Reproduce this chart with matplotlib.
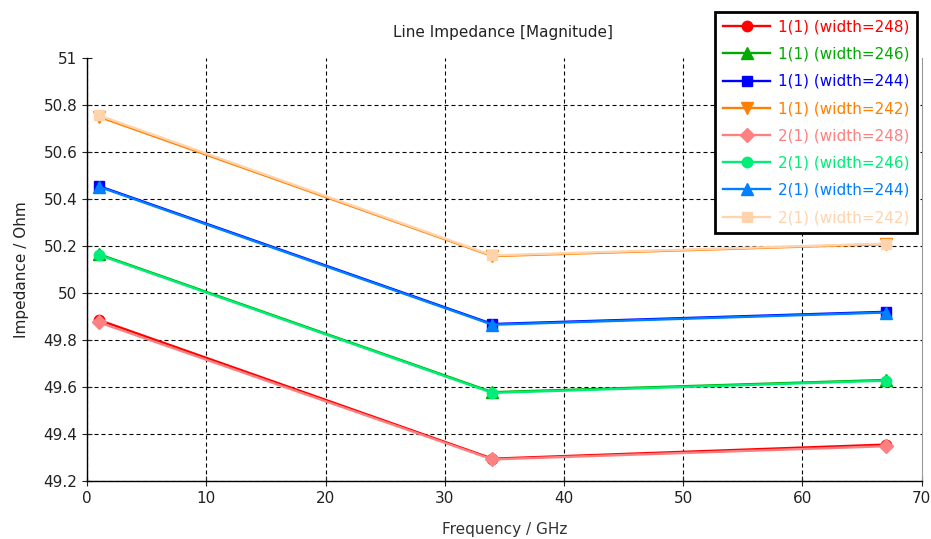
import numpy as np
import matplotlib.pyplot as plt

# Frequency points (GHz)
freq = [1, 34, 67]

# Port 1 impedance for each trace width
p1_w248 = [49.885, 49.295, 49.355]
p1_w246 = [50.165, 49.578, 49.630]
p1_w244 = [50.455, 49.868, 49.920]
p1_w242 = [50.750, 50.157, 50.208]

# Port 2 impedance for each trace width
p2_w248 = [49.875, 49.292, 49.348]
p2_w246 = [50.162, 49.575, 49.627]
p2_w244 = [50.452, 49.865, 49.917]
p2_w242 = [50.756, 50.160, 50.210]

labels = ['1(1) (width=248)', '1(1) (width=246)', '1(1) (width=244)', '1(1) (width=242)',
          '2(1) (width=248)', '2(1) (width=246)', '2(1) (width=244)', '2(1) (width=242)']
series = [p1_w248, p1_w246, p1_w244, p1_w242, p2_w248, p2_w246, p2_w244, p2_w242]
colors = ['#ff0000', '#00aa00', '#0000ff', '#ff8000',
          '#ff8080', '#00ee77', '#0080ff', '#ffd3ac']
markers = ['o', '^', 's', 'v', 'D', 'o', '^', 's']
msizes = [7.5, 8.5, 7.5, 8.5, 7, 7.5, 8.5, 7.5]

plt.rcParams['font.family'] = ['DejaVu Sans']

fig = plt.figure(figsize=(9.31, 5.39), dpi=100)
ax = fig.add_axes([0.0935, 0.1076, 0.8965, 0.7848])

for y, c, m, ms, lab in zip(series, colors, markers, msizes, labels):
    ax.plot(freq, y, color=c, marker=m, markersize=ms, linewidth=1.7, label=lab)

ax.set_xlim(0, 70)
ax.set_ylim(49.2, 51)
ax.set_xticks(np.arange(0, 71, 10))
ax.set_yticks(np.arange(49.2, 51.01, 0.2))
ax.set_yticklabels(['49.2', '49.4', '49.6', '49.8', '50', '50.2', '50.4', '50.6', '50.8', '51'])
ax.tick_params(labelsize=11, direction='inout', length=7, width=0.8, colors='#222222')

ax.grid(True, color='black', linestyle=(0, (3.6, 2.7)), linewidth=0.8)
ax.get_ygridlines()[-1].set_visible(False)
ax.get_xgridlines()[-1].set_visible(False)

ax.spines['top'].set_visible(False)
ax.spines['right'].set_color('#999999')
ax.spines['left'].set_linewidth(1.0)
ax.spines['bottom'].set_linewidth(1.0)

ax.set_xlabel('Frequency / GHz', fontsize=11, color='#333333', labelpad=12)
ax.set_ylabel('Impedance / Ohm', fontsize=11, color='#222222', labelpad=10)
fig.text(0.540, 0.94, 'Line Impedance [Magnitude]', ha='center', va='center',
         fontsize=11, color='#222222')

leg = ax.legend(loc='upper right', bbox_to_anchor=(0.985, 0.978),
                bbox_transform=fig.transFigure, fontsize=11, frameon=True,
                fancybox=False, handlelength=3.1, labelspacing=0.8,
                borderpad=0.5, handletextpad=0.5, borderaxespad=0)
leg.get_frame().set_edgecolor('black')
leg.get_frame().set_linewidth(2)
leg.get_frame().set_alpha(1)
for txt, c in zip(leg.get_texts(), colors):
    txt.set_color(c)

fig.savefig('out.png', dpi=100)
